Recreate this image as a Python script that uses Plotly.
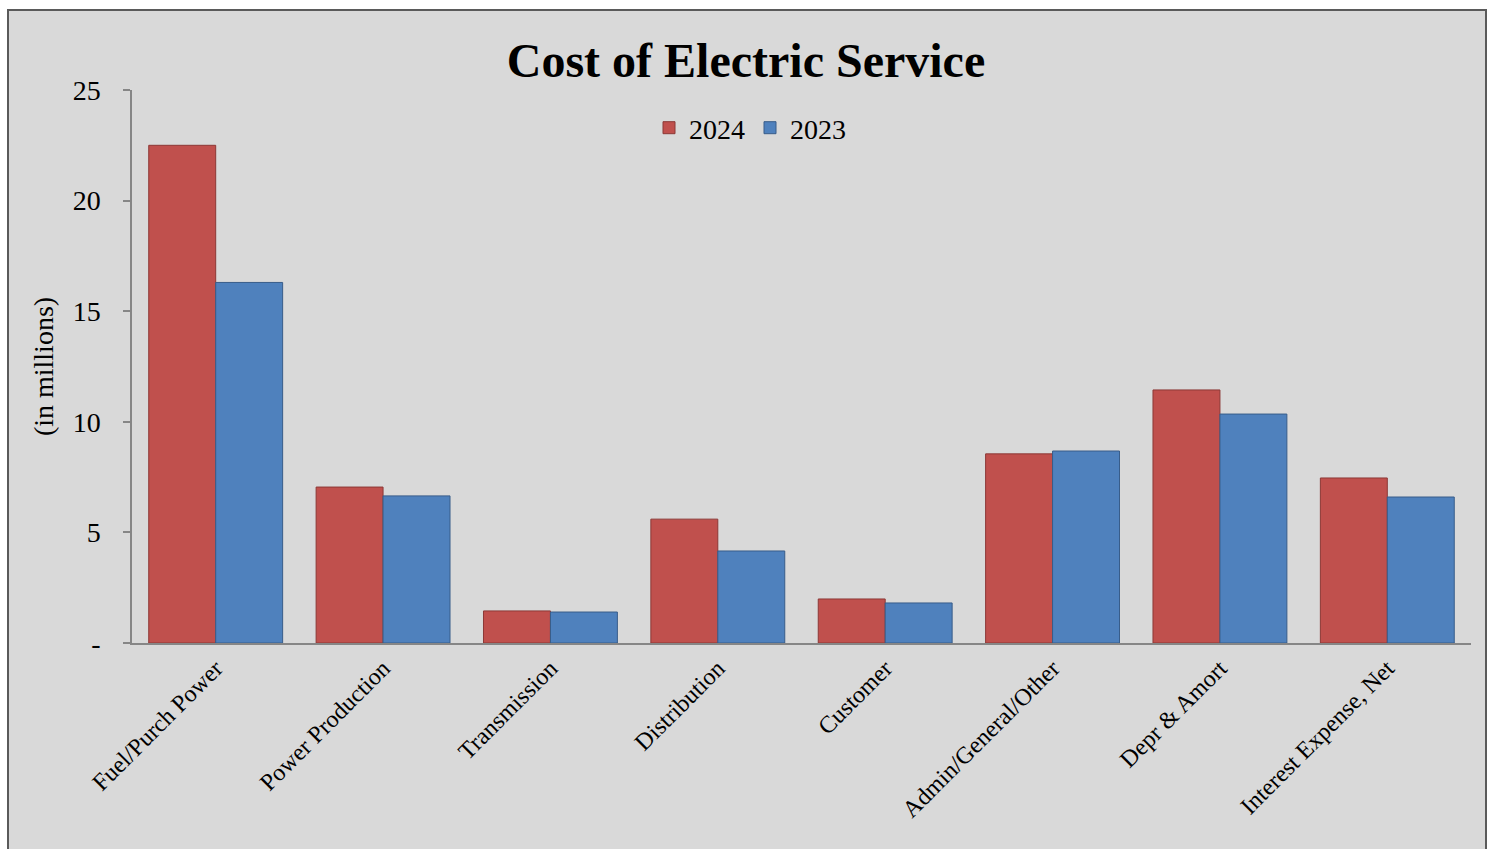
import plotly.graph_objects as go

categories = ["Fuel/Purch Power", "Power Production", "Transmission", "Distribution",
              "Customer", "Admin/General/Other", "Depr & Amort", "Interest Expense, Net"]
values_2024 = [22.5, 7.05, 1.45, 5.6, 1.99, 8.55, 11.44, 7.46]
values_2023 = [16.3, 6.65, 1.40, 4.16, 1.81, 8.68, 10.35, 6.60]
y_tickvals = [0, 5, 10, 15, 20, 25]
y_ticktext = ["-", "5", "10", "15", "20", "25"]

FONT = "Liberation Serif"

fig = go.Figure()
fig.add_trace(go.Bar(name="2024", x=categories, y=values_2024,
                     marker=dict(color="#c0504d", line=dict(color="#8c3836", width=1))))
fig.add_trace(go.Bar(name="2023", x=categories, y=values_2023,
                     marker=dict(color="#4f81bd", line=dict(color="#385d8a", width=1))))

W, H = 1492, 849
L, R, T, B = 132, 21, 90, 206
pw, ph = W - L - R, H - T - B

def px_x(x):
    return (x - L) / pw

def px_y(y):
    return (H - B - y) / ph

fig.add_shape(type="rect", xref="paper", yref="paper", layer="below",
              x0=px_x(8), x1=px_x(1486), y0=px_y(860), y1=px_y(10),
              fillcolor="#d9d9d9", line=dict(color="#5a5a5a", width=2))

fig.update_layout(
    width=W, height=H,
    margin=dict(l=L, r=R, t=T, b=B),
    paper_bgcolor="white",
    plot_bgcolor="rgba(0,0,0,0)",
    barmode="group", bargap=0.2, bargroupgap=0,
    font=dict(family=FONT, color="black"),
    title=dict(text="<b>Cost of Electric Service</b>", x=0.5, xanchor="center",
               xref="container", y=1 - 60 / H, yanchor="middle",
               font=dict(family=FONT, size=48, color="black")),
    legend=dict(orientation="h", x=px_x(750), xanchor="center", y=px_y(128), yanchor="middle",
                font=dict(family=FONT, size=28, color="black"), bgcolor="rgba(0,0,0,0)",
                itemwidth=30, traceorder="normal"),
    showlegend=True,
)
fig.update_xaxes(showline=True, linecolor="#868686", linewidth=1.5, showgrid=False,
                 ticks="", tickangle=-45, tickfont=dict(family=FONT, size=24),
                 zeroline=False)
fig.update_yaxes(range=[0, 25], tickvals=y_tickvals, ticktext=y_ticktext,
                 showline=True, linecolor="#868686", linewidth=1.5, showgrid=False,
                 ticks="outside", ticklen=7, tickcolor="#868686", tickwidth=1.5,
                 ticklabelstandoff=17,
                 tickfont=dict(family=FONT, size=28), zeroline=False,
                 title=dict(text="(in millions)", font=dict(family=FONT, size=28), standoff=11))

fig.write_html("out.html")
